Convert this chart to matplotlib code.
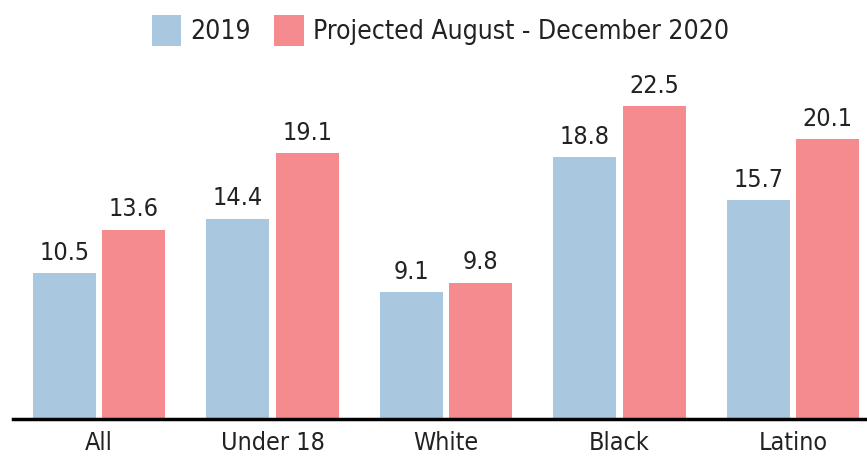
import matplotlib.pyplot as plt
import numpy as np

# data
groups = ['All', 'Under 18', 'White', 'Black', 'Latino']
vals_2019 = [10.5, 14.4, 9.1, 18.8, 15.7]
vals_2020 = [13.6, 19.1, 9.8, 22.5, 20.1]
series_names = ['2019', 'Projected August - December 2020']

blue = '#a9c7df'
red = '#f58b8f'

plt.rcParams['font.family'] = ['DejaVu Sans']
plt.rcParams['font.stretch'] = 'condensed'

fig = plt.figure(figsize=(8.67, 4.57), dpi=100)
ax = fig.add_axes([0.015, 0.0832, 0.985, 0.81])

x = np.arange(len(groups))
w = 0.363
b1 = ax.bar(x - 0.2, vals_2019, w, color=blue, label=series_names[0])
b2 = ax.bar(x + 0.2, vals_2020, w, color=red, label=series_names[1])

for bars, vals in ((b1, vals_2019), (b2, vals_2020)):
    for r, v in zip(bars, vals):
        ax.text(r.get_x() + r.get_width() / 2, v + 0.6, f'{v:.1f}',
                ha='center', va='bottom', fontsize=18, color='#222222')

ax.set_xlim(-0.496, 4.426)
ax.set_ylim(0, 26.6)
ax.set_xticks(x)
ax.set_xticklabels(groups, fontsize=18, color='#222222')
ax.tick_params(axis='x', length=0, pad=9)
ax.set_yticks([])
for s in ['top', 'right', 'left']:
    ax.spines[s].set_visible(False)
ax.spines['bottom'].set_linewidth(2.5)
ax.spines['bottom'].set_color('black')

fig.legend(handles=[b1, b2], loc='upper center', bbox_to_anchor=(0.508, 1.02),
           ncol=2, frameon=False, fontsize=19, handlelength=1.1, handleheight=1.45,
           columnspacing=0.9, handletextpad=0.35, labelcolor='#222222')

fig.savefig('out.png', dpi=100)
